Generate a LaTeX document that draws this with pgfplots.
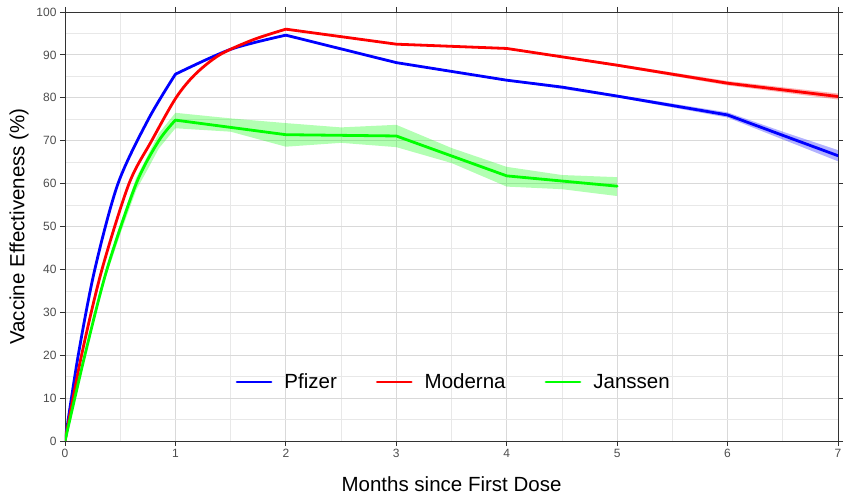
\documentclass[border=0pt]{standalone}
\usepackage{pgfplots}
\pgfplotsset{compat=1.18}
\usepackage{fontspec}
\setmainfont{Liberation Sans}

\definecolor{gridmajor}{RGB}{217,217,217}
\definecolor{gridminor}{RGB}{232,232,232}
\definecolor{frame}{RGB}{51,51,51}
\definecolor{ticktext}{RGB}{77,77,77}
\definecolor{pfz}{RGB}{0,0,255}
\definecolor{mod}{RGB}{255,0,0}
\definecolor{jan}{RGB}{0,255,0}

\begin{document}
\begin{tikzpicture}
\useasboundingbox (-65pt,-54pt) rectangle (779pt,441pt);
\begin{axis}[
  at={(0,0)}, anchor=south west,
  scale only axis, width=773pt, height=429pt,
  xmin=0, xmax=7, ymin=0, ymax=100,
  xtick={0,1,...,7}, ytick={0,10,...,100},
  minor x tick num=1, minor y tick num=1,
  grid=both,
  major grid style={line width=0.9pt, color=gridmajor},
  minor grid style={line width=0.6pt, color=gridminor},
  axis line style={line width=0.9pt, color=frame},
  tick style={line width=0.9pt, color=frame},
  tick align=outside, major tick length=5pt, minor tick length=0pt,
  ticklabel style={font=\fontsize{12}{14}\selectfont, text=ticktext},
  /pgf/number format/assume math mode=true,
  xlabel={Months since First Dose},
  ylabel={Vaccine Effectiveness (\%)},
  label style={font=\fontsize{20.5}{24}\selectfont},
  xlabel style={at={([yshift=-43pt]axis description cs:0.5,0)}, anchor=center},
  ylabel style={at={([xshift=-46pt]axis description cs:0,0.5)}, anchor=center},
  legend columns=3,
  legend style={draw=none, fill=none, at={(axis cs:3.52,13.75)}, anchor=center,
    font=\fontsize{20.5}{24}\selectfont,
    /tikz/every odd column/.append style={column sep=10pt},
    /tikz/every even column/.append style={column sep=37pt}},
  legend image code/.code={\draw[#1, line width=2.8pt] (0pt,0pt) -- (34pt,0pt);},
  every axis plot/.append style={line width=2.8pt, line join=round, line cap=round},
]

% ribbons
\addplot[forget plot, draw=none, fill=jan, fill opacity=0.3] coordinates {
  (0,0) (0.09,10.4) (0.18,20.6) (0.275,30.8) (0.38,41.0) (0.51,51.3) (0.645,61.4) (0.75,66.6) (0.85,71.7)
  (1,76.5) (1.5,75.2) (2,74.1) (2.5,73.1) (3,73.7) (3.5,68.3) (4,63.9) (4.5,62.0) (5,61.5)
  (5,57.1) (4.5,58.7) (4,59.3) (3.5,64.8) (3,68.5) (2.5,69.5) (2,68.6) (1.5,72.1) (1,72.9)
  (0.85,68.2) (0.75,63.4) (0.645,58.5) (0.51,48.9) (0.38,39.0) (0.275,29.3) (0.18,19.6) (0.09,9.8) (0,0)
} -- cycle;
\addplot[forget plot, draw=none, fill=pfz, fill opacity=0.3] coordinates {
  (4,84.2) (5,80.7) (6,76.6) (6.5,72.1) (7,67.8)
  (7,65.2) (6.5,70.3) (6,75.4) (5,80.1) (4,84.0)
} -- cycle;
\addplot[forget plot, draw=none, fill=mod, fill opacity=0.3] coordinates {
  (4,91.6) (5,87.9) (6,83.9) (7,81.0)
  (7,79.6) (6,82.9) (5,87.3) (4,91.4)
} -- cycle;

% Pfizer
\addplot[pfz] coordinates {
  (2,94.6) (3,88.2) (4,84.1) (4.5,82.5) (5,80.4) (6,76.0) (7,66.5)
};
\addplot[pfz, smooth, forget plot] coordinates {
  (0,0) (0.12,20) (0.27,40) (0.48,60) (0.755,75) (1,85.5)
};
\addplot[pfz, smooth, forget plot] coordinates {
  (1,85.5) (1.5,91.3) (2,94.6)
};
% Moderna
\addplot[mod] coordinates {
  (2,96) (3,92.5) (4,91.5) (5,87.6) (6,83.4) (7,80.3)
};
\addplot[mod, smooth, forget plot] coordinates {
  (0,0) (0.15,20) (0.335,40) (0.58,60) (0.785,70) (1.005,80) (1.18,85.5) (1.4,90) (1.7,93.5) (2,96)
};
% Janssen
\addplot[jan] coordinates {
  (1,74.8) (2,71.4) (3,71.1) (4,61.8) (5,59.4)
};
\addplot[jan, smooth, forget plot] coordinates {
  (0,0) (0.18,20) (0.38,40) (0.645,60) (0.85,70) (1,74.8)
};
\legend{Pfizer, Moderna, Janssen}
\end{axis}
\end{tikzpicture}
\end{document}
